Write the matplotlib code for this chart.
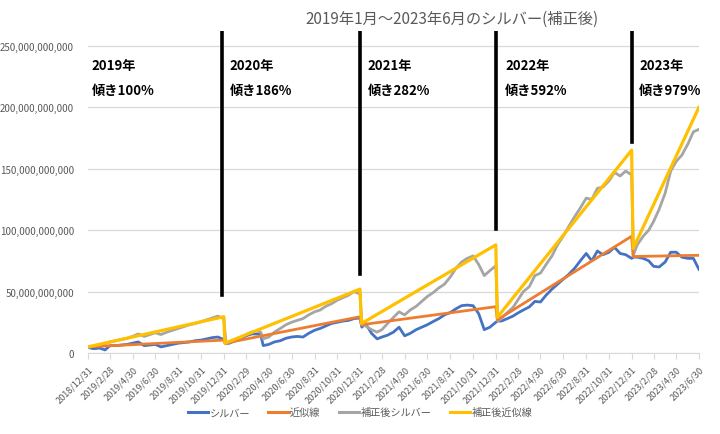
import pandas as pd
import matplotlib
matplotlib.use("Agg")
import matplotlib.pyplot as plt
from matplotlib.lines import Line2D
import numpy as np

plt.rcParams['font.family'] = ['Noto Sans CJK JP', 'DejaVu Sans']

# === データ (単位: 10億円) ===
dates = [
    "2018-12-31",
    "2019-01-15", "2019-01-31", "2019-02-15", "2019-02-28", "2019-03-15", "2019-03-31",
    "2019-04-15", "2019-04-30", "2019-05-15", "2019-05-31", "2019-06-15", "2019-06-30",
    "2019-07-15", "2019-07-31", "2019-08-15", "2019-08-31", "2019-09-15", "2019-09-30",
    "2019-10-15", "2019-10-31", "2019-11-15", "2019-11-30", "2019-12-15", "2019-12-31",
    "2020-01-06", "2020-01-15", "2020-01-31", "2020-02-15", "2020-02-29", "2020-03-15",
    "2020-03-31", "2020-04-08", "2020-04-15", "2020-04-30", "2020-05-15", "2020-05-31",
    "2020-06-15", "2020-06-30", "2020-07-15", "2020-07-31", "2020-08-15", "2020-08-31",
    "2020-09-15", "2020-09-30", "2020-10-15", "2020-10-31", "2020-11-15", "2020-11-30",
    "2020-12-15", "2020-12-31",
    "2021-01-05", "2021-01-15", "2021-01-31", "2021-02-15", "2021-02-28", "2021-03-15",
    "2021-03-31", "2021-04-15", "2021-04-30", "2021-05-15", "2021-05-31", "2021-06-15",
    "2021-06-30", "2021-07-15", "2021-07-31", "2021-08-15", "2021-08-31", "2021-09-15",
    "2021-09-30", "2021-10-15", "2021-10-31", "2021-11-15", "2021-11-30", "2021-12-15",
    "2021-12-31",
    "2022-01-05", "2022-01-15", "2022-01-31", "2022-02-15", "2022-02-28", "2022-03-15",
    "2022-03-31", "2022-04-15", "2022-04-30", "2022-05-15", "2022-05-31", "2022-06-15",
    "2022-06-30", "2022-07-15", "2022-07-31", "2022-08-15", "2022-08-31", "2022-09-15",
    "2022-09-30", "2022-10-15", "2022-10-31", "2022-11-15", "2022-11-30", "2022-12-15",
    "2022-12-31",
    "2023-01-05", "2023-01-15", "2023-01-31", "2023-02-15", "2023-02-28", "2023-03-15",
    "2023-03-31", "2023-04-15", "2023-04-30", "2023-05-15", "2023-05-31", "2023-06-15",
    "2023-06-30",
]

silver = [
    4.5,
    3.5, 4.0, 2.5, 6.0, 6.0, 6.5,
    7.0, 8.0, 9.0, 6.0, 6.5, 7.0,
    5.0, 6.0, 7.0, 8.0, 8.5, 9.0,
    10.0, 10.5, 11.5, 12.5, 13.0, 11.0,
    7.5, 8.0, 10.0, 12.0, 14.0, 15.5,
    15.5, 15.0, 6.0, 7.0, 9.0, 10.0,
    12.0, 13.0, 13.5, 13.0, 16.0, 18.5,
    20.0, 22.0, 24.0, 25.0, 26.0, 26.5,
    28.0, 28.5,
    21.0, 24.0, 16.0, 11.5, 13.0, 14.5,
    17.0, 21.0, 14.0, 16.0, 19.0, 21.0,
    23.0, 25.5, 28.0, 31.0, 33.0, 36.0,
    38.5, 39.0, 38.5, 32.0, 19.0, 21.0,
    25.0,
    26.0, 26.0, 28.0, 30.0, 32.5, 35.0,
    37.5, 42.0, 41.5, 47.0, 52.0, 56.0,
    60.0, 64.0, 69.0, 75.0, 81.0, 75.0,
    83.0, 80.0, 82.0, 86.0, 81.0, 80.0,
    77.0,
    78.0, 78.0, 77.0, 75.0, 70.5, 70.0,
    74.0, 82.0, 82.0, 78.0, 77.0, 77.0,
    68.0,
]

silver_adj = [
    4.5,
    5.5, 6.5, 7.5, 9.0, 10.0, 11.0,
    12.0, 13.5, 15.5, 13.5, 15.0, 16.5,
    15.0, 17.0, 18.5, 20.0, 21.5, 23.0,
    24.0, 25.5, 27.0, 28.5, 30.0, 28.0,
    7.5, 8.5, 10.5, 12.5, 15.0, 17.0,
    18.0, 17.0, 11.5, 13.0, 17.0, 20.0,
    23.0, 25.0, 26.5, 28.0, 31.0, 33.5,
    35.0, 38.0, 40.0, 43.0, 45.0, 47.0,
    50.0, 48.0,
    23.0, 22.0, 19.0, 17.0, 19.0, 24.0,
    29.0, 33.5, 31.0, 35.0, 38.0, 42.0,
    46.0, 49.0, 53.0, 56.0, 62.0, 69.0,
    74.0, 77.0, 79.0, 72.0, 63.0, 67.0,
    71.0,
    26.0, 28.0, 33.0, 37.0, 43.0, 50.0,
    54.0, 63.0, 65.0, 72.0, 79.0, 88.0,
    95.0, 103.0, 111.0, 118.0, 126.0, 125.0,
    134.0, 135.0, 140.0, 147.0, 144.0, 148.0,
    145.0,
    80.0, 88.0, 95.0, 100.0, 107.0, 117.0,
    130.0, 148.0, 156.0, 161.0, 170.0, 180.0,
    182.0,
]

# 年ごとの近似線 (始点・終点)
trend_dates = ["2018-12-31", "2019-12-31", "2020-01-03", "2020-12-31", "2021-01-04", "2021-12-31",
               "2022-01-04", "2022-12-31", "2023-01-04", "2023-06-30"]
trend = [5.0, 10.5, 8.0, 29.5, 23.0, 37.7, 27.0, 95.0, 78.5, 79.5]
trend_adj = [5.0, 29.5, 8.0, 52.0, 24.0, 88.0, 29.0, 165.0, 85.0, 200.0]

year_labels = ["2019年", "2020年", "2021年", "2022年", "2023年"]
slope_labels = ["傾き100%", "傾き186%", "傾き282%", "傾き592%", "傾き979%"]
label_dates = ["2019-01-10", "2020-01-15", "2021-01-20", "2022-01-25", "2023-01-20"]
sep_dates = ["2019-12-26", "2020-12-31", "2021-12-31", "2022-12-31"]
sep_bottom = [47.0, 64.0, 101.0, 172.0]

tick_dates = ["2018-12-31", "2019-02-28", "2019-04-30", "2019-06-30", "2019-08-31", "2019-10-31",
              "2019-12-31", "2020-02-29", "2020-04-30", "2020-06-30", "2020-08-31", "2020-10-31",
              "2020-12-31", "2021-02-28", "2021-04-30", "2021-06-30", "2021-08-31", "2021-10-31",
              "2021-12-31", "2022-02-28", "2022-04-30", "2022-06-30", "2022-08-31", "2022-10-31",
              "2022-12-31", "2023-02-28", "2023-04-30", "2023-06-30"]

BLUE = "#4472C4"
ORANGE = "#ED7D31"
GRAY = "#A5A5A5"
YELLOW = "#FFC000"
TXT = "#595959"

x = pd.to_datetime(dates)
xt = pd.to_datetime(trend_dates)
e9 = 1e9

fig = plt.figure(figsize=(7.2, 4.35), dpi=100)
ax = fig.add_axes([0.1222, 0.1862, 0.8486, 0.7402])

ax.plot(x, np.array(silver) * e9, color=BLUE, lw=2.0, zorder=3)
ax.plot(xt, np.array(trend) * e9, color=ORANGE, lw=2.0, zorder=4)
ax.plot(x, np.array(silver_adj) * e9, color=GRAY, lw=2.0, zorder=3)
ax.plot(xt, np.array(trend_adj) * e9, color=YELLOW, lw=2.3, zorder=5)

ymax = 262e9
for d, b in zip(sep_dates, sep_bottom):
    ax.plot([pd.Timestamp(d)] * 2, [b * e9, ymax], color="black", lw=2.6, zorder=6)

for d, yl, sl in zip(label_dates, year_labels, slope_labels):
    ax.text(pd.Timestamp(d), 234e9, yl, fontsize=9.5, fontweight="bold", color="black", va="center")
    ax.text(pd.Timestamp(d), 214e9, sl, fontsize=9.5, fontweight="bold", color="black", va="center")

ax.set_xlim(pd.Timestamp("2018-12-31"), pd.Timestamp("2023-06-30"))
ax.set_ylim(0, ymax)
ax.set_yticks(np.arange(0, 251e9, 50e9))
ax.yaxis.set_major_formatter(matplotlib.ticker.FuncFormatter(lambda v, p: f"{int(round(v)):,}"))
ax.grid(axis="y", color="#D9D9D9", lw=0.9)
ax.set_axisbelow(True)

tk = pd.to_datetime(tick_dates)
ax.set_xticks(tk)
ax.set_xticklabels([f"{t.year}/{t.month}/{t.day}" for t in tk], rotation=45, ha="right",
                   rotation_mode="anchor", fontsize=6.6, color=TXT)
ax.tick_params(axis="x", length=4, color="#D9D9D9", pad=4)
ax.tick_params(axis="y", length=0, labelsize=7, labelcolor=TXT, pad=10)

for s in ["top", "right", "left"]:
    ax.spines[s].set_visible(False)
ax.spines["bottom"].set_color("#D9D9D9")

fig.text(0.628, 0.955, "2019年1月～2023年6月のシルバー(補正後)", fontsize=11, color=TXT,
         ha="center", va="center")

handles = [Line2D([], [], color=BLUE, lw=2.2), Line2D([], [], color=ORANGE, lw=2.2),
           Line2D([], [], color=GRAY, lw=2.2), Line2D([], [], color=YELLOW, lw=2.2)]
names = ["シルバー", "近似線", "補正後シルバー", "補正後近似線"]
fig.legend(handles, names, loc="center", bbox_to_anchor=(0.50, 0.05), ncol=4, frameon=False,
           fontsize=7.3, handlelength=2.0, handletextpad=0.15, columnspacing=1.8, labelcolor=TXT)

plt.savefig("out.png", dpi=100)
